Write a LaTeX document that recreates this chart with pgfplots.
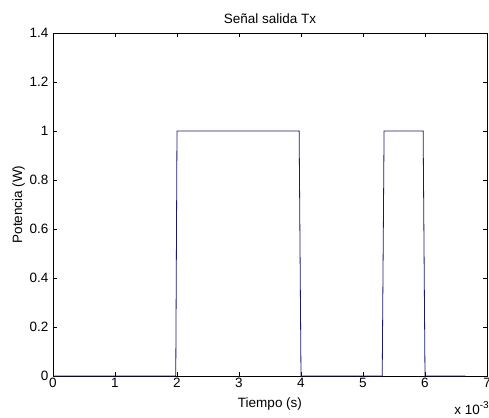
\documentclass[border=0pt]{standalone}
\usepackage{fontspec}
\setmainfont{Liberation Sans}
\usepackage{pgfplots}
\pgfplotsset{compat=1.18}
\definecolor{sig}{rgb}{0.1,0.1,0.45}
\begin{document}
\begin{tikzpicture}
\begin{axis}[
  at={(0,0)}, anchor=south west,
  scale only axis, width=434pt, height=343pt,
  xmin=0, xmax=7, ymin=0, ymax=1.4,
  xtick={0,1,...,7}, ytick={0,0.2,...,1.4},
  tick align=inside, major tick length=4pt,
  axis line style={line width=0.6pt},
  every tick/.style={black, line width=0.5pt},
  /pgf/number format/assume math mode=true,
  tick label style={font=\fontsize{13.5}{15}\selectfont},
  xticklabel style={yshift=1pt},
  yticklabel style={/pgf/number format/fixed, xshift=-1pt},
  label style={font=\fontsize{13.5}{15}\selectfont},
  title style={font=\fontsize{13.5}{15}\selectfont, yshift=0pt},
  title={Señal salida Tx},
  xlabel={Tiempo (s)},
  ylabel={Potencia (W)},
  xlabel style={yshift=-3pt},
  ylabel style={yshift=-2pt},
]
\addplot[sig, line width=0.8pt] coordinates {
  (0,0) (1.98,0) (2.0,1) (3.97,1) (4.0,0) (5.31,0) (5.34,1) (5.97,1) (6.0,0) (6.65,0)
};
\end{axis}
\node[anchor=base east, font=\fontsize{13.5}{15}\selectfont, inner sep=0pt] at (436pt,-38pt) {x 10\raisebox{6pt}{\fontsize{10}{11}\selectfont -3}};
\pgfresetboundingbox
\path[use as bounding box] (-53pt,-41pt) rectangle (436pt,376pt);
\end{tikzpicture}
\end{document}
